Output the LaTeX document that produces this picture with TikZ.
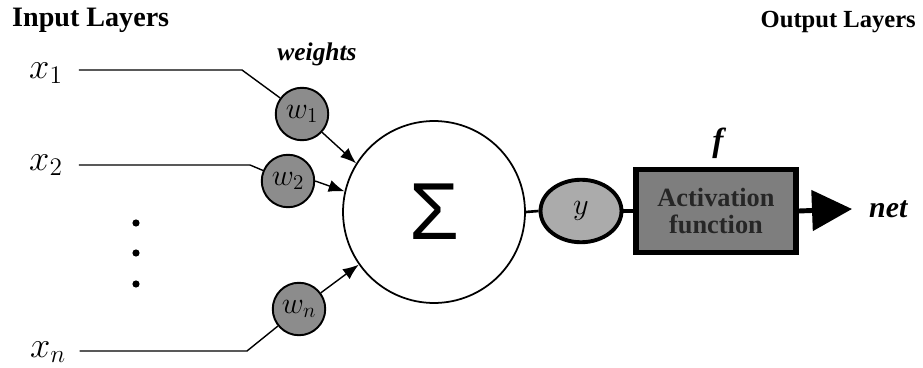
\documentclass[tikz,border=0pt]{standalone}
\usepackage{fontspec}
\setmainfont{Liberation Serif}
\setsansfont{Liberation Sans}
\usepackage{tikz}
\usetikzlibrary{arrows.meta, shapes.geometric, positioning, calc}

\definecolor{wgray}{HTML}{8C8C8C}
\definecolor{ygray}{HTML}{ABABAB}
\definecolor{boxgray}{HTML}{7E7E7E}

\tikzset{
  weight/.style={circle, draw, line width=1.1pt, fill=wgray, minimum size=1.05cm, inner sep=0pt, font=\fontsize{17}{17}\selectfont},
  inlabel/.style={font=\fontsize{20}{20}\selectfont, anchor=center},
  head/.style={font=\rmfamily\bfseries\fontsize{#1}{#1}\selectfont},
  bolditalic/.style={font=\rmfamily\bfseries\itshape\fontsize{#1}{#1}\selectfont},
  wire/.style={line width=0.8pt},
  feed/.style={line width=0.8pt, -{Latex[length=9pt,width=7pt]}}
}

\begin{document}
\begin{tikzpicture}[x=0.02cm, y=-0.02cm]

            \useasboundingbox (0,0) rectangle (923,368);

            % Titles
            \node[head=16, anchor=west] (inTitle) at (6,20) {Input Layers};
            \node[head=14, anchor=east] (outTitle) at (922,22) {Output Layers};
            \node[bolditalic=14.5] (wTitle) at (317,54) {weights};

            % Inputs
            \node[inlabel] (x1) at (46,73) {$x_1$};
            \node[inlabel] (x2) at (46,165) {$x_2$};
            \node[inlabel] (xn) at (48,352) {$x_n$};

            % Dots between x_2 and x_n
            \foreach \yy in {223,253,284}
                \fill (136,\yy) circle (3.6);

            % Weights
            \node[weight] (w1) at (302,114) {$w_1$};
            \node[weight] (w2) at (288,181) {$w_2$};
            \node[weight] (wn) at (299,309) {$w_n$};

            % Summing junction
            \node[circle, draw, line width=1pt, minimum size=3.64cm, inner sep=0pt] (sum) at (434,212) {\sffamily\fontsize{46}{46}\selectfont Σ};

            % Output y
            \node[ellipse, draw, line width=2.2pt, fill=ygray, minimum width=1.62cm, minimum height=1.25cm, inner sep=0pt, font=\fontsize{16}{16}\selectfont] (y) at (581,211) {$y$};

            % Activation block
            \node[rectangle, draw, line width=3.2pt, fill=boxgray, minimum width=3.2cm, minimum height=1.66cm, align=center, text=black!85, font=\rmfamily\bfseries\fontsize{15}{15}\selectfont] (act) at (716,211) {Activation\\function};
            \node[bolditalic=19] (fLabel) at (718,143) {f};
            \node[bolditalic=17, anchor=west] (net) at (863,209) {net};

            % Bend points of the input wires
            \coordinate (b1) at (242,70);
            \coordinate (b2) at (250,165);
            \coordinate (bn) at (247,351);

            % Input wires
            \draw[wire] ([xshift=0.2cm]x1.east |- b1) -- (b1) -- (w1);
            \draw[wire] ([xshift=0.2cm]x2.east |- b2) -- (b2) -- (w2);
            \draw[wire] ([xshift=0.15cm]xn.east |- bn) -- (bn) -- (wn);

            % Weighted inputs into the sum
            \draw[feed] (w1) -- (sum.148);
            \draw[feed] (w2.east) -- (sum.167);
            \draw[feed] (wn) -- (sum.215);

            % Sum -> y -> f -> net
            \draw[line width=1.5pt] (sum.east) -- (y.west);
            \draw[line width=2.8pt] (y.east) -- (act.west);
            \draw[line width=2.8pt, -{Triangle[length=0.8cm, width=0.8cm]}] (act.east) -- ([xshift=-0.22cm]net.west);

            \end{tikzpicture}
\end{document}
